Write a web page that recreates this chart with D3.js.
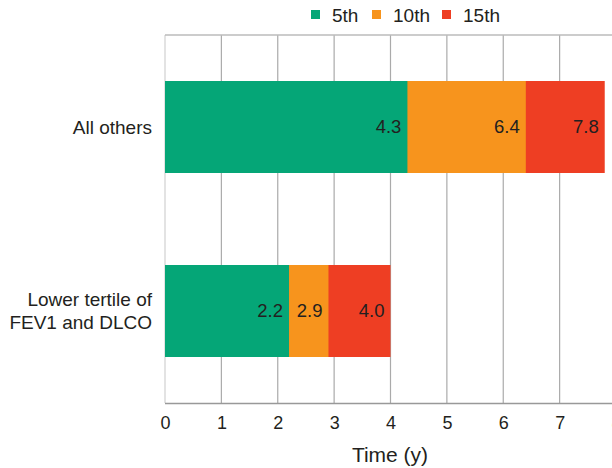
<!DOCTYPE html>
<html>
<head>
<meta charset="utf-8">
<script src="https://cdn.jsdelivr.net/npm/d3@7"></script>
<style>
  body { margin: 0; background: #fff; }
  svg { display: block; font-family: "Liberation Sans", Arial, sans-serif; }
</style>
</head>
<body>
<svg id="chart" width="612" height="468"></svg>
<script>
const categories = ["All others", "Lower tertile of\nFEV1 and DLCO"];
const seriesNames = ["5th", "10th", "15th"];
const series5th = [4.3, 2.2];
const series10th = [6.4, 2.9];
const series15th = [7.8, 4.0];
const seriesValues = [series5th, series10th, series15th];
const colors = ["#05a677", "#f7941d", "#ee3e23"];
const xTicks = [0, 1, 2, 3, 4, 5, 6, 7, 8];

const svg = d3.select("#chart");
const x = d3.scaleLinear().domain([0, 8]).range([165, 616]);
const y = d3.scaleBand().domain(categories).range([35, 403]).paddingInner(0.5).paddingOuter(0.25);

// gridlines
svg.append("g").selectAll("line").data(xTicks).join("line")
  .attr("x1", d => x(d)).attr("x2", d => x(d))
  .attr("y1", 35).attr("y2", 403)
  .attr("stroke", d => d === 0 ? "#d0d0d0" : "#aaaaaa").attr("stroke-width", 1.2);
// top border
svg.append("line").attr("x1", 165).attr("x2", 612).attr("y1", 35).attr("y2", 35)
  .attr("stroke", "#bbbbbb").attr("stroke-width", 1.5);

// bars: draw largest first so segments stack visually
for (let s = seriesValues.length - 1; s >= 0; s--) {
  svg.append("g").selectAll("rect").data(categories).join("rect")
    .attr("x", x(0))
    .attr("y", d => y(d))
    .attr("width", (d, i) => x(seriesValues[s][i]) - x(0))
    .attr("height", y.bandwidth())
    .attr("fill", colors[s]);
}
// value labels
seriesValues.forEach((vals, s) => {
  svg.append("g").selectAll("text").data(categories).join("text")
    .attr("x", (d, i) => x(vals[i]) - 6)
    .attr("y", d => y(d) + y.bandwidth() / 2)
    .attr("dy", "0.35em")
    .attr("text-anchor", "end")
    .attr("font-size", 18.5)
    .attr("fill", "#231f20")
    .text((d, i) => vals[i].toFixed(1));
});

// x axis line
svg.append("line").attr("x1", 165).attr("x2", 612).attr("y1", 403.5).attr("y2", 403.5)
  .attr("stroke", "#999").attr("stroke-width", 1.5);
const xAxis = d3.axisBottom(x).tickValues(xTicks).tickSize(0).tickPadding(12).tickFormat(d3.format("d"));
const gx = svg.append("g").attr("transform", "translate(0,404)").call(xAxis);
gx.select(".domain").remove();
gx.selectAll("text").attr("font-size", 18).attr("fill", "#231f20").attr("font-family", "Liberation Sans, Arial, sans-serif");

svg.append("text").attr("x", 390).attr("y", 462).attr("text-anchor", "middle")
  .attr("font-size", 21).attr("fill", "#231f20").text("Time (y)");

// category labels
categories.forEach(c => {
  const lines = c.split("\n");
  const cy = y(c) + y.bandwidth() / 2;
  const lh = 23;
  const t = svg.append("text").attr("text-anchor", "end").attr("font-size", 19).attr("fill", "#231f20");
  lines.forEach((ln, k) => {
    t.append("tspan").attr("x", 152)
      .attr("y", cy + (k - (lines.length - 1) / 2) * lh)
      .attr("dy", "0.35em").text(ln);
  });
});

// legend
const legendX = [311, 372, 442];
seriesNames.forEach((n, i) => {
  svg.append("rect").attr("x", legendX[i]).attr("y", 10).attr("width", 9).attr("height", 9).attr("fill", colors[i]);
  svg.append("text").attr("x", legendX[i] + 21).attr("y", 15).attr("dy", "0.35em")
    .attr("font-size", 19).attr("fill", "#231f20").text(n);
});
</script>
</body>
</html>
